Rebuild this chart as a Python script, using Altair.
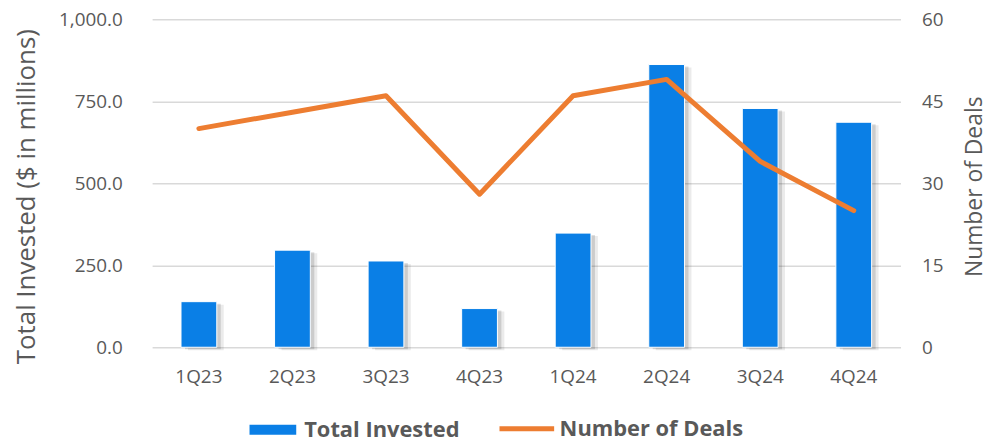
import altair as alt
import pandas as pd

quarters = ["1Q23", "2Q23", "3Q23", "4Q23", "1Q24", "2Q24", "3Q24", "4Q24"]
total_invested = [139, 296, 263, 118, 348, 862, 728, 686]
num_deals = [40, 43, 46, 28, 46, 49, 34, 25]

df = pd.DataFrame({
    "quarter": quarters,
    "invested": total_invested,
    "deals": num_deals,
    "s1": ["Total Invested"] * len(quarters),
    "s2": ["Number of Deals"] * len(quarters),
})

FONT = "Open Sans"
GREY = "#595959"
BLUE = "#0A7FE6"
ORANGE = "#ED7D31"

x = alt.X("quarter:N", sort=quarters,
          scale=alt.Scale(paddingInner=0, paddingOuter=0),
          axis=alt.Axis(title=None, labelAngle=0, domain=False, ticks=False,
                        labelPadding=20, labelFontSize=19, labelColor=GREY,
                        labelFont=FONT))

yleft = alt.Y("invested:Q", scale=alt.Scale(domain=[0, 1000]),
              axis=alt.Axis(title="Total Invested ($ in millions)", values=[0, 250, 500, 750, 1000],
                            format=",.1f", domain=False, ticks=False, labelPadding=30,
                            titleX=-118, titleY=178, titleBaseline="alphabetic",
                            gridColor="#D9D9D9", gridWidth=1.5,
                            labelFontSize=19, labelColor=GREY, labelFont=FONT,
                            titleFontSize=26, titleColor=GREY, titleFont=FONT,
                            titleFontWeight="normal"))

base = alt.Chart(df)

shadow1 = base.mark_bar(size=36, xOffset=4, yOffset=2, color="#000000", opacity=0.13).encode(
    x=x, y=yleft)
shadow2 = base.mark_bar(size=36, xOffset=7, yOffset=3, color="#000000", opacity=0.08).encode(
    x=x, y=yleft)

bars = base.mark_bar(size=36, stroke="white", strokeWidth=1).encode(
    x=x, y=yleft,
    fill=alt.Fill("s1:N", scale=alt.Scale(domain=["Total Invested"], range=[BLUE]),
                  legend=alt.Legend(title=None, orient="none", legendX=110.5, legendY=402,
                                    symbolType="M-2.35,-0.5H2.35V0.5H-2.35Z", symbolSize=400,
                                    symbolStrokeWidth=0, symbolOpacity=1, padding=0,
                                    labelFontSize=22, labelFontWeight="bold", labelLimit=400,
                                    labelColor=GREY, labelFont=FONT, labelOffset=20.5)),
)

left = alt.layer(shadow2, shadow1, bars)

line = base.mark_line(strokeWidth=5, strokeCap="round", strokeJoin="round").encode(
    x=x,
    y=alt.Y("deals:Q", scale=alt.Scale(domain=[0, 60]),
            axis=alt.Axis(title="Number of Deals", orient="right", values=[0, 15, 30, 45, 60],
                          grid=False, domain=False, ticks=False, labelPadding=21,
                          titleAngle=270, titleX=81, titleY=168, titleBaseline="alphabetic",
                          labelFontSize=19, labelColor=GREY, labelFont=FONT,
                          titleFontSize=23, titleColor=GREY, titleFont=FONT,
                          titleFontWeight="normal")),
    stroke=alt.Stroke("s2:N", scale=alt.Scale(domain=["Number of Deals"], range=[ORANGE]),
                      legend=alt.Legend(title=None, orient="none", legendX=364.5, legendY=399.5,
                                        symbolType="M-2.75,0H2.75", symbolSize=400,
                                        symbolStrokeWidth=5, padding=0,
                                        labelFontSize=22, labelFontWeight="bold", labelLimit=400,
                                        labelColor=GREY, labelFont=FONT, labelOffset=20.5)),
)

chart = alt.layer(left, line).resolve_scale(
    y="independent", fill="independent", stroke="independent"
).properties(
    width=753, height=330,
    autosize=alt.AutoSizeParams(type="none"),
    padding={"left": 145, "top": 10, "right": 86, "bottom": 96}
).configure_view(stroke=None)

chart.save("out.html", embed_options={"renderer": "svg", "actions": False})
